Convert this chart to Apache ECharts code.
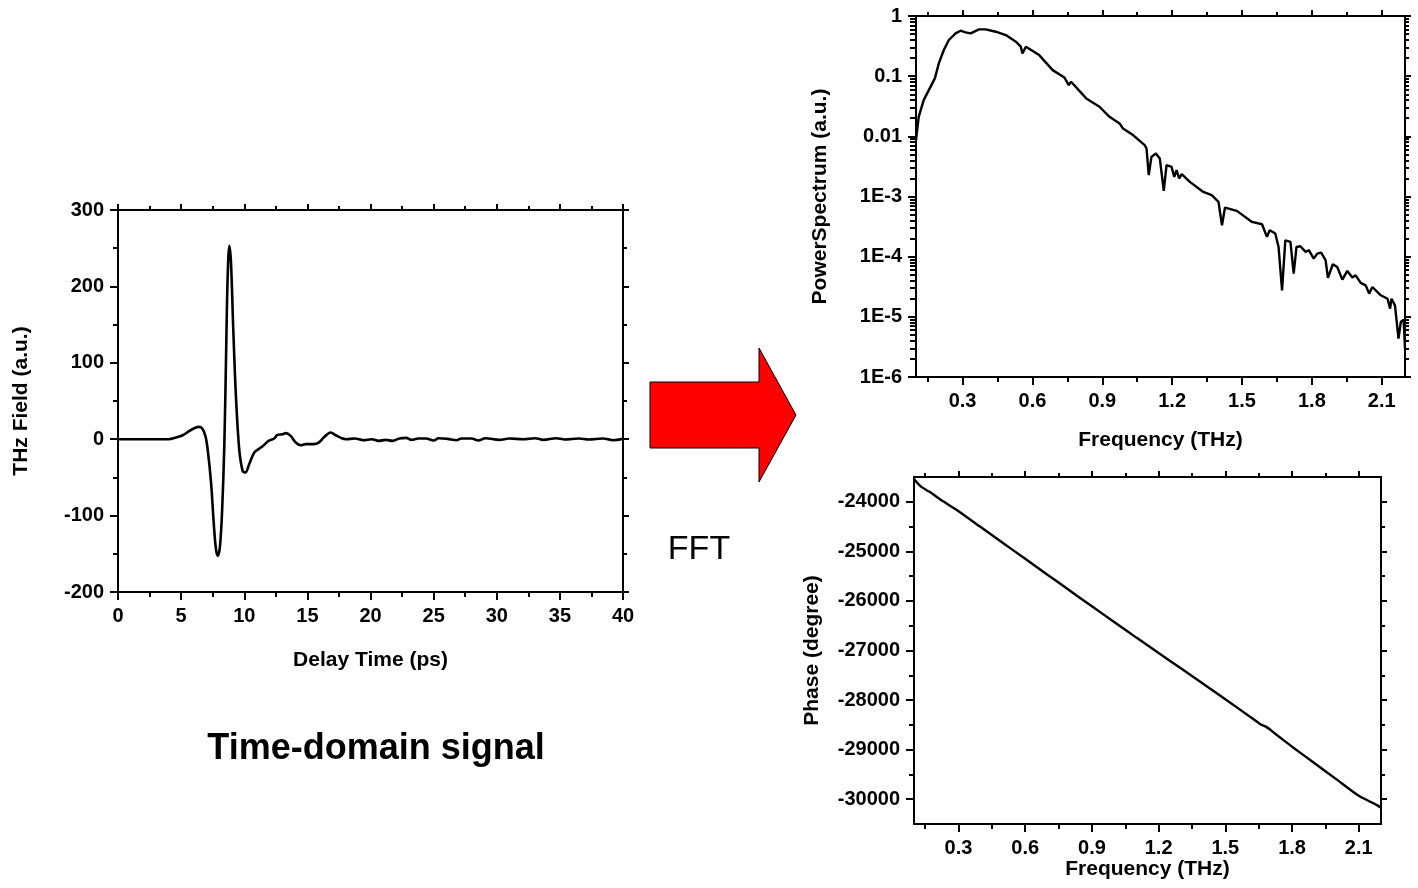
<!DOCTYPE html>
<html>
<head>
<meta charset="utf-8">
<script src="https://cdn.jsdelivr.net/npm/echarts@6/dist/echarts.min.js"></script>
<style>
html,body{margin:0;padding:0;background:#fff;}
#c{width:1418px;height:888px;}
</style>
</head>
<body>
<div id="c"></div>
<script>
// ---------- data ----------
const timePs = [0,2,4,4.6,5.13,5.66,6.05,6.39,6.66,6.92,7.1,7.37,7.58,7.76,7.92,8.08,8.24,8.42,8.55,8.68,8.82,8.95,9.13,9.34,9.6,9.87,10.08,10.39,10.79,11.13,11.5,11.92,12.37,12.63,13.03,13.29,13.68,14.08,14.47,14.87,15.5,15.9,16.3,16.84,17.25,17.66,18.07,18.75,19.43,20.1,20.65,21.2,21.74,22.29,22.83,23.24,23.79,24.4,25.0,25.4,26.1,26.8,27.2,28.0,28.55,29.1,30.2,31.0,32.1,33.05,33.7,34.7,35.4,36.5,37.3,38.4,39.2,40];
const fieldAu = [0,0,0,2.2,5.2,10.9,14.4,16.1,14.4,4.4,-13,-56.7,-109,-144,-152.7,-139.6,-96,-8.7,100,209,253,231,144,56.7,-13,-41.4,-43.6,-32.7,-17.5,-13,-8.7,-2.2,0.9,5.7,6.5,7.9,4.4,-4.4,-7.9,-6.5,-6.5,-4.4,2.2,8.7,5.2,1.7,0,0.9,-1.3,0,-2.2,-0.9,-2.2,0.9,1.7,-0.9,0.9,0.9,-1.7,1.3,0.4,-1.3,0.9,0.9,-1.7,1.3,-0.9,0.9,0,1.3,-0.9,1.3,-0.4,0.9,-0.4,0.9,-1.3,0.4];

const freqPS = [0.1001,0.1116,0.133,0.155,0.181,0.198,0.2195,0.241,0.270,0.2915,0.313,0.335,0.3705,0.399,0.4425,0.4857,0.529,0.550,0.557,0.572,0.629,0.687,0.737,0.756,0.766,0.831,0.888,0.931,0.974,0.989,1.032,1.082,1.090,1.0995,1.111,1.130,1.147,1.164,1.176,1.1975,1.209,1.219,1.230,1.241,1.276,1.334,1.370,1.399,1.414,1.427,1.478,1.543,1.586,1.607,1.619,1.643,1.657,1.672,1.686,1.708,1.722,1.734,1.751,1.773,1.787,1.808,1.823,1.840,1.859,1.869,1.890,1.909,1.931,1.952,1.974,1.988,2.010,2.031,2.046,2.060,2.096,2.125,2.136,2.142,2.157,2.172,2.182,2.194,2.200];
const powerPS = [0.00865,0.0211,0.0400,0.0587,0.0918,0.163,0.272,0.399,0.515,0.570,0.535,0.515,0.600,0.600,0.548,0.483,0.374,0.309,0.239,0.309,0.224,0.126,0.0953,0.0711,0.0807,0.0427,0.0310,0.0211,0.0164,0.0135,0.0105,0.00714,0.00628,0.00226,0.00456,0.00519,0.00429,0.00124,0.00332,0.00311,0.00212,0.00274,0.00199,0.00235,0.00175,0.00119,0.00105,0.000815,0.000333,0.000655,0.000577,0.000378,0.000346,0.000213,0.000275,0.000242,0.000145,0.0000276,0.000187,0.000176,0.0000522,0.000145,0.000149,0.000120,0.000128,0.0000929,0.000112,0.000117,0.0000871,0.0000443,0.0000748,0.0000675,0.0000415,0.0000579,0.0000449,0.0000490,0.0000366,0.0000334,0.0000243,0.0000313,0.0000228,0.0000200,0.0000137,0.0000200,0.0000155,0.00000434,0.00000820,0.00000897,0.00000295];

const freqPh = [0.10,0.13,0.17,0.22,0.30,0.40,0.50,0.60,0.70,0.80,0.90,1.00,1.10,1.20,1.30,1.40,1.50,1.60,1.66,1.68,1.70,1.72,1.80,1.90,2.00,2.10,2.18,2.20];
const phaseDeg = [-23541,-23690,-23800,-23960,-24190,-24510,-24830,-25150,-25470,-25790,-26108,-26425,-26740,-27050,-27360,-27670,-27985,-28300,-28495,-28530,-28590,-28665,-28940,-29270,-29600,-29930,-30115,-30170];

// tick labels
const timeTicks = [0,5,10,15,20,25,30,35,40];
const fieldTicks = [-200,-100,0,100,200,300];
const freqTicks = [0.3,0.6,0.9,1.2,1.5,1.8,2.1];
const freqMinor = [0.15,0.45,0.75,1.05,1.35,1.65,1.95];
const logLabels = ['1E-6','1E-5','1E-4','1E-3','0.01','0.1','1'];
const phaseTicks = [-30000,-29000,-28000,-27000,-26000,-25000,-24000];
const phaseMinor = [-29500,-28500,-27500,-26500,-25500,-24500];

// ---------- chart ----------
const FONT = '"Liberation Sans", Arial, sans-serif';
const K = '#000';
const LW = 2;
const lblStyle = {color:K, fontFamily:FONT, fontWeight:'bold', fontSize:20};
const nameStyle = {color:K, fontFamily:FONT, fontWeight:'bold', fontSize:21};

function axisBase(o){
  return Object.assign({
    axisLine:{show:true,onZero:false,lineStyle:{color:K,width:LW}},
    axisTick:{show:true,inside:false,length:8,lineStyle:{color:K,width:LW}},
    axisLabel:Object.assign({show:true,margin:14},lblStyle),
    splitLine:{show:false},
    nameTextStyle:nameStyle,
    nameLocation:'middle'
  }, o);
}
function tickOnly(o, values, len){
  return Object.assign({
    type:'value',
    axisLine:{show:false,onZero:false},
    axisTick:{show:true,inside:false,length:len,customValues:values,lineStyle:{color:K,width:LW}},
    axisLabel:{show:false},
    splitLine:{show:false}
  }, o);
}
function mirror(o, extraTick){
  return Object.assign({
    axisLine:{show:true,onZero:false,lineStyle:{color:K,width:LW}},
    axisTick:Object.assign({show:true,inside:false,length:6,lineStyle:{color:K,width:LW}}, extraTick||{}),
    axisLabel:{show:false},
    splitLine:{show:false}
  }, o);
}

// log-spaced minor tick positions (exponent space) for the overlay axis
const logMinor = [];
for (let d=-6; d<0; d++) for (let k=2; k<=9; k++) logMinor.push(Math.log10(k) + d);

const plain = v => String(v);

const xAxes = [
  // grid 0 : time domain
  axisBase({gridIndex:0,type:'value',min:0,max:40,interval:5,position:'bottom',
    minorTick:{show:true,splitNumber:2,length:5,lineStyle:{color:K,width:LW}},
    axisLabel:Object.assign({margin:14,customValues:timeTicks,formatter:plain},lblStyle),
    name:'Delay Time (ps)',nameGap:58}),
  mirror({gridIndex:0,type:'value',min:0,max:40,interval:5,position:'top',
    minorTick:{show:true,splitNumber:2,length:4,lineStyle:{color:K,width:LW}}}),
  // grid 1 : power spectrum
  axisBase({gridIndex:1,type:'value',min:0.1,max:2.2,position:'bottom',
    axisTick:{show:true,length:8,customValues:freqTicks,lineStyle:{color:K,width:LW}},
    axisLabel:Object.assign({margin:14,customValues:freqTicks,formatter:v=>v.toFixed(1)},lblStyle),
    name:'Frequency (THz)',nameGap:53}),
  mirror({gridIndex:1,type:'value',min:0.1,max:2.2,position:'top'},{customValues:freqTicks}),
  tickOnly({gridIndex:1,min:0.1,max:2.2,position:'bottom'},freqMinor,5),
  tickOnly({gridIndex:1,min:0.1,max:2.2,position:'top'},freqMinor,4),
  // grid 2 : phase
  axisBase({gridIndex:2,type:'value',min:0.1,max:2.2,position:'bottom',
    axisTick:{show:true,length:8,customValues:freqTicks,lineStyle:{color:K,width:LW}},
    axisLabel:Object.assign({margin:14,customValues:freqTicks,formatter:v=>v.toFixed(1)},lblStyle),
    name:'Frequency (THz)',nameGap:34}),
  mirror({gridIndex:2,type:'value',min:0.1,max:2.2,position:'top'},{customValues:freqTicks}),
  tickOnly({gridIndex:2,min:0.1,max:2.2,position:'bottom'},freqMinor,5),
  tickOnly({gridIndex:2,min:0.1,max:2.2,position:'top'},freqMinor,4)
];

const yAxes = [
  // grid 0
  axisBase({gridIndex:0,type:'value',min:-200,max:300,interval:100,position:'left',
    minorTick:{show:true,splitNumber:2,length:5,lineStyle:{color:K,width:LW}},
    axisLabel:Object.assign({margin:14,customValues:fieldTicks,formatter:plain},lblStyle),
    name:'THz Field (a.u.)',nameGap:86}),
  mirror({gridIndex:0,type:'value',min:-200,max:300,interval:100,position:'right',
    minorTick:{show:true,splitNumber:2,length:4,lineStyle:{color:K,width:LW}}}),
  // grid 1 (log)
  axisBase({gridIndex:1,type:'log',logBase:10,min:1e-6,max:1,position:'left',splitNumber:6,
    axisLabel:Object.assign({margin:14,formatter:v=>logLabels[Math.round(Math.log10(v))+6]},lblStyle),
    name:'PowerSpectrum (a.u.)',nameGap:85}),
  mirror({gridIndex:1,type:'log',logBase:10,min:1e-6,max:1,position:'right',splitNumber:6}),
  tickOnly({gridIndex:1,min:-6,max:0,position:'left'},logMinor,6),
  tickOnly({gridIndex:1,min:-6,max:0,position:'right'},logMinor,4),
  // grid 2
  axisBase({gridIndex:2,type:'value',min:-30500,max:-23500,position:'left',
    axisTick:{show:true,length:8,customValues:phaseTicks,lineStyle:{color:K,width:LW}},
    axisLabel:Object.assign({margin:14,customValues:phaseTicks,formatter:plain},lblStyle),
    name:'Phase (degree)',nameGap:91}),
  mirror({gridIndex:2,type:'value',min:-30500,max:-23500,position:'right'},{customValues:phaseTicks}),
  tickOnly({gridIndex:2,min:-30500,max:-23500,position:'left'},phaseMinor,5),
  tickOnly({gridIndex:2,min:-30500,max:-23500,position:'right'},phaseMinor,4)
];

const zip = (a,b)=>a.map((v,i)=>[v,b[i]]);

const option = {
  animation:false,
  backgroundColor:'#fff',
  grid:[
    {left:118,top:210,width:505,height:382},
    {left:916,top:16,width:489,height:361},
    {left:914,top:477,width:467,height:347}
  ],
  xAxis:xAxes,
  yAxis:yAxes,
  series:[
    {type:'line',xAxisIndex:0,yAxisIndex:0,data:zip(timePs,fieldAu),showSymbol:false,smooth:0.35,
      lineStyle:{color:K,width:2.6},clip:true},
    {type:'line',xAxisIndex:2,yAxisIndex:2,data:zip(freqPS,powerPS),showSymbol:false,
      lineStyle:{color:K,width:2.4},clip:true},
    {type:'line',xAxisIndex:6,yAxisIndex:6,data:zip(freqPh,phaseDeg),showSymbol:false,smooth:0.2,
      lineStyle:{color:K,width:2.4},clip:true}
  ],
  graphic:[
    {type:'polygon',shape:{points:[[650,382],[759,382],[759,348],[796,415],[759,482],[759,448],[650,448]]},
      style:{fill:'#ff0000',stroke:'#000',lineWidth:1}},
    {type:'text',x:699,y:550,style:{text:'FFT',fill:K,font:'normal 34px '+FONT,textAlign:'center',textVerticalAlign:'middle'}},
    {type:'text',x:376,y:749,style:{text:'Time-domain signal',fill:K,font:'bold 36px '+FONT,textAlign:'center',textVerticalAlign:'middle'}}
  ]
};

const chart = echarts.init(document.getElementById('c'), null, {renderer:'canvas'});
chart.setOption(option);
</script>
</body>
</html>
